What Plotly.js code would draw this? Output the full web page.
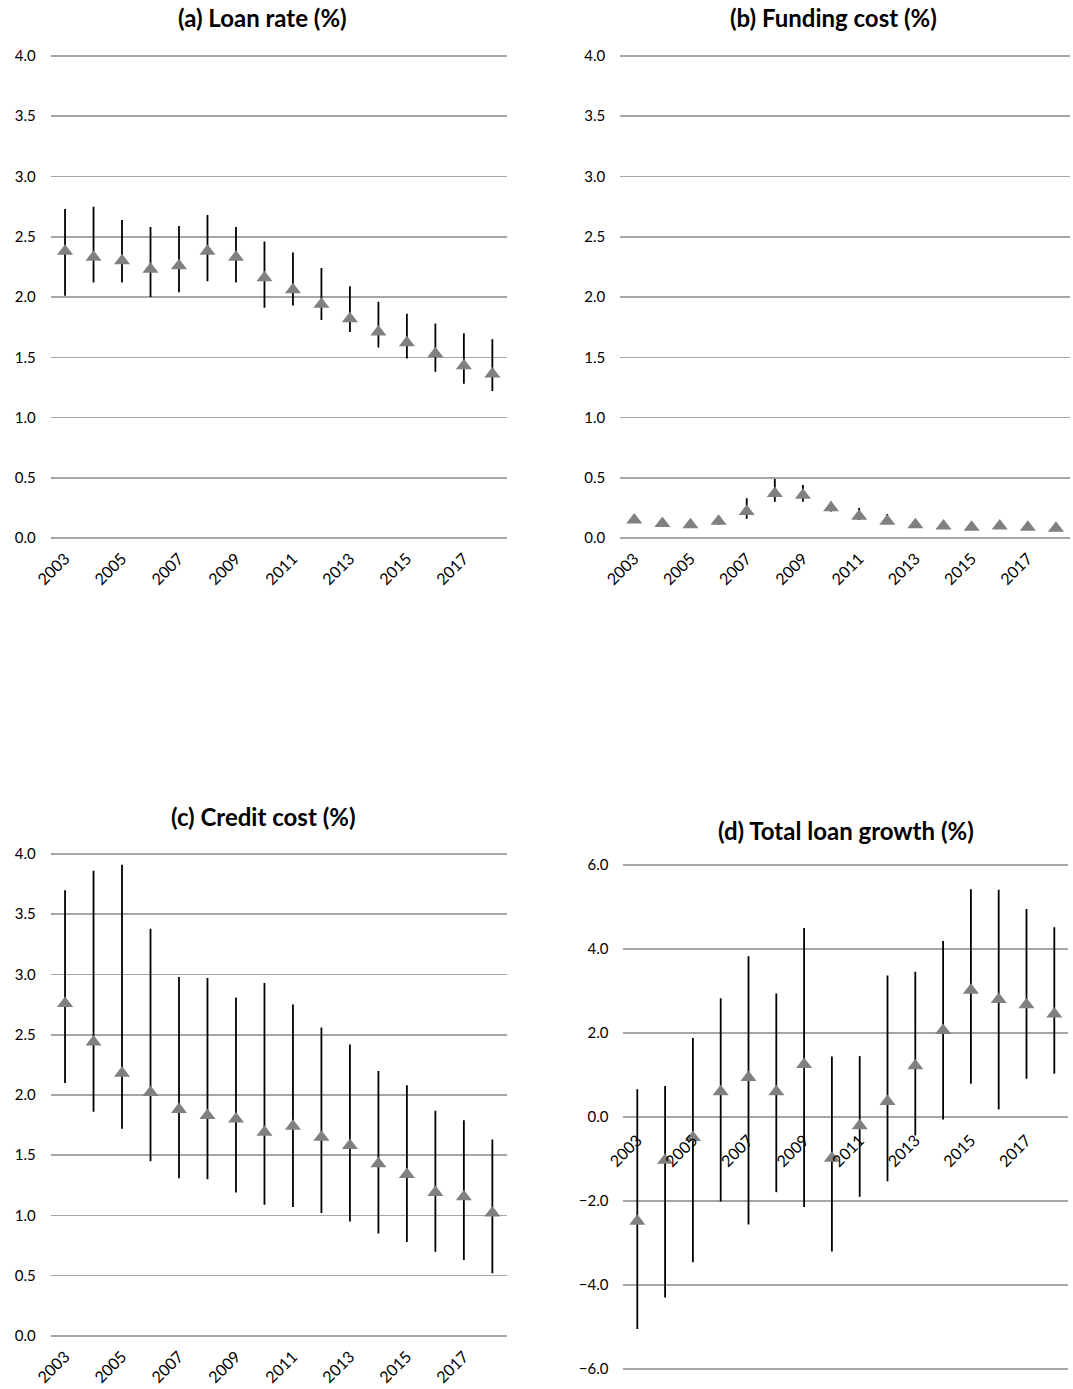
<!DOCTYPE html>
<html>
<head>
<meta charset="utf-8">
<script src="https://cdn.plot.ly/plotly-3.0.1.min.js"></script>
<style>
html,body{margin:0;padding:0;background:#fff;}
#chart{width:1073px;height:1389px;}
</style>
</head>
<body>
<div id="chart"></div>
<script>
// ---- data ----
const years = [2003,2004,2005,2006,2007,2008,2009,2010,2011,2012,2013,2014,2015,2016,2017,2018];
const tickYears = [2003,2005,2007,2009,2011,2013,2015,2017];
const tickLabels = ["2003","2005","2007","2009","2011","2013","2015","2017"];

// (a) Loan rate (%)
const loanRate   = [2.38,2.33,2.30,2.23,2.26,2.38,2.33,2.16,2.06,1.94,1.82,1.71,1.62,1.53,1.43,1.36];
const loanRateHi = [2.73,2.75,2.64,2.58,2.59,2.68,2.58,2.46,2.37,2.24,2.09,1.96,1.86,1.78,1.70,1.65];
const loanRateLo = [2.01,2.12,2.12,2.00,2.04,2.13,2.12,1.91,1.93,1.81,1.71,1.58,1.49,1.38,1.28,1.22];

// (b) Funding cost (%)
const fundCost   = [0.15,0.12,0.11,0.14,0.22,0.37,0.355,0.25,0.18,0.14,0.11,0.10,0.09,0.10,0.09,0.08];
const fundCostHi = [0.17,0.14,0.13,0.17,0.33,0.49,0.44,0.30,0.25,0.20,0.14,0.12,0.11,0.12,0.11,0.10];
const fundCostLo = [0.13,0.10,0.09,0.11,0.16,0.30,0.30,0.22,0.15,0.12,0.09,0.08,0.07,0.08,0.07,0.06];

// (c) Credit cost (%)
const creditCost   = [2.76,2.44,2.18,2.02,1.88,1.83,1.80,1.69,1.74,1.65,1.58,1.43,1.34,1.19,1.155,1.02];
const creditCostHi = [3.70,3.86,3.91,3.38,2.98,2.97,2.81,2.93,2.75,2.56,2.42,2.20,2.08,1.87,1.79,1.63];
const creditCostLo = [2.10,1.86,1.72,1.45,1.31,1.30,1.19,1.09,1.07,1.02,0.95,0.85,0.78,0.70,0.63,0.52];

// (d) Total loan growth (%)
const loanGrowth   = [-2.48,-1.03,-0.49,0.60,0.94,0.60,1.25,-0.98,-0.21,0.37,1.22,2.06,3.02,2.80,2.67,2.45];
const loanGrowthHi = [0.66,0.74,1.88,2.83,3.83,2.94,4.50,1.44,1.45,3.37,3.46,4.19,5.42,5.41,4.95,4.52];
const loanGrowthLo = [-5.05,-4.30,-3.46,-2.01,-2.56,-1.79,-2.14,-3.20,-1.90,-1.53,-0.44,-0.06,0.79,0.18,0.91,1.03];

const titles = ["(a) Loan rate (%)","(b) Funding cost (%)","(c) Credit cost (%)","(d) Total loan growth (%)"];

// ---- build ----
const FONT = "Lato, 'Open Sans', sans-serif";
const series = [
  [loanRate, loanRateHi, loanRateLo],
  [fundCost, fundCostHi, fundCostLo],
  [creditCost, creditCostHi, creditCostLo],
  [loanGrowth, loanGrowthHi, loanGrowthLo]
];

const traces = series.map((s, i) => {
  const [m, hi, lo] = s;
  const n = i === 0 ? '' : String(i + 1);
  return {
    type: 'scatter', mode: 'markers',
    x: years, y: m,
    xaxis: 'x' + n, yaxis: 'y' + n,
    marker: {symbol: 'triangle-up', size: 14, color: '#808080'},
    error_y: {
      type: 'data', symmetric: false,
      array: hi.map((v, k) => v - m[k]),
      arrayminus: lo.map((v, k) => m[k] - v),
      color: '#000', thickness: 1.8, width: 0
    },
    showlegend: false, hoverinfo: 'x+y'
  };
});

const H = 1389, W = 1073;
const px = v => v / W;
const py = v => 1 - v / H;

function xAxis(d, extra) {
  return Object.assign({
    domain: d, range: [2002.5, 2018.5],
    tickmode: 'array', tickvals: tickYears, ticktext: tickLabels,
    tickangle: -45, showgrid: false, zeroline: false, showline: false,
    ticks: '', ticklabelstandoff: 6,
    tickfont: {family: FONT, size: 16, color: '#000'}, fixedrange: true
  }, extra || {});
}
function yAxis(d, r, dt) {
  return {
    domain: d, range: r, dtick: dt, tick0: 0, tickformat: '.1f',
    showgrid: true, gridcolor: '#a6a6a6', gridwidth: 1.5,
    zeroline: false, showline: false, ticks: '',
    ticklabelstandoff: 14,
    tickfont: {family: FONT, size: 15, color: '#000'}, fixedrange: true
  };
}

// small padding so the end gridlines are drawn
const PA = 0.01 * 120.5, PD = 0.03 * 42;

const layout = {
  width: W, height: H,
  margin: {l: 0, r: 0, t: 0, b: 0},
  paper_bgcolor: '#fff', plot_bgcolor: 'rgba(0,0,0,0)',
  font: {family: FONT, color: '#000'},
  showlegend: false,
  xaxis:  xAxis([px(50.8), px(506.6)], {anchor: 'y'}),
  yaxis:  yAxis([py(538 + PA), py(56 - PA)], [-0.01, 4.01], 0.5),
  xaxis2: xAxis([px(620.2), px(1070)], {anchor: 'y2'}),
  yaxis2: Object.assign(yAxis([py(538 + PA), py(56 - PA)], [-0.01, 4.01], 0.5), {anchor: 'x2'}),
  xaxis3: xAxis([px(50.8), px(506.6)], {anchor: 'y3'}),
  yaxis3: Object.assign(yAxis([py(1336 + PA), py(854 - PA)], [-0.01, 4.01], 0.5), {anchor: 'x3'}),
  xaxis4: xAxis([px(623.4), px(1068.2)], {anchor: 'free', position: py(1117), ticklabelstandoff: 10}),
  yaxis4: Object.assign(yAxis([py(1369 + PD), py(865 - PD)], [-6.03, 6.03], 2), {anchor: 'x4'}),
  annotations: [
    {text: '<b>' + titles[0] + '</b>', x: px(262), y: py(18)},
    {text: '<b>' + titles[1] + '</b>', x: px(833), y: py(18)},
    {text: '<b>' + titles[2] + '</b>', x: px(263), y: py(816)},
    {text: '<b>' + titles[3] + '</b>', x: px(846), y: py(830)}
  ].map(a => Object.assign(a, {xref: 'paper', yref: 'paper', showarrow: false,
    xanchor: 'center', yanchor: 'middle', font: {family: FONT, size: 24, color: '#000'}}))
};

Plotly.newPlot('chart', traces, layout, {displayModeBar: false, staticPlot: true});
</script>
</body>
</html>
